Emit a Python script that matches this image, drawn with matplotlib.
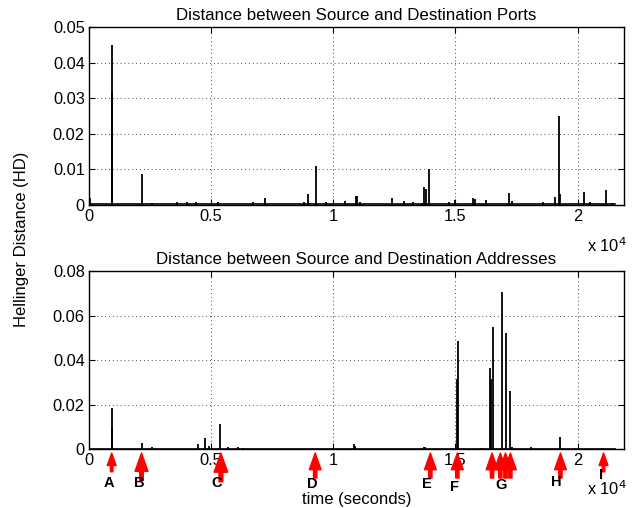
import matplotlib
matplotlib.use("Agg")
import matplotlib.pyplot as plt

plt.rcParams['font.family'] = ['Liberation Sans', 'DejaVu Sans']

# --- data: spikes of the Hellinger distance (time in seconds, HD value)
port_times = [40, 930, 960, 2160, 2600, 3600, 4000, 4400, 5300, 6700, 7190, 8800,
              8960, 9275, 9700, 10500, 10940, 10970, 11100, 12400, 12880, 13250,
              13650, 13710, 13800, 13910, 14730, 15000, 15700, 15800, 16260,
              17210, 17300, 18600, 19070, 19260, 19300, 20260, 20500, 21150, 21400]
port_hd = [0.002, 0.045, 0.032, 0.0088, 0.0006, 0.0008, 0.0009, 0.0007, 0.0008,
           0.0009, 0.002, 0.0009, 0.003, 0.011, 0.0008, 0.001, 0.0025, 0.0025,
           0.0007, 0.002, 0.001, 0.0007, 0.0006, 0.005, 0.0045, 0.010, 0.0008,
           0.0015, 0.002, 0.0018, 0.0015, 0.0033, 0.001, 0.0007, 0.0022, 0.025,
           0.003, 0.0036, 0.0008, 0.0043, 0.0005]

addr_times = [930, 960, 2160, 2600, 4480, 4730, 4900, 5370, 5700, 6100, 6300,
              10830, 10900, 13700, 13770, 15070, 15110, 16100, 16430, 16470,
              16530, 16910, 17060, 17230, 17330, 18100, 19300, 21000]
addr_hd = [0.0183, 0.0098, 0.0028, 0.001, 0.0022, 0.0048, 0.0015, 0.0111, 0.0007,
           0.0008, 0.0006, 0.0022, 0.0012, 0.0007, 0.001, 0.0313, 0.0485, 0.0006,
           0.0363, 0.0315, 0.0547, 0.0704, 0.052, 0.0261, 0.001, 0.0008, 0.0053,
           0.0003]

baseline_hd = 0.0002
t_end = 21550

# event arrows (time of each arrow) and their letters
event_times = [930, 2150, 5400, 9260, 13975, 15080, 16500, 16840, 17050, 17250, 19300, 21065]
arrow_scale = [0.75, 1.1, 1.15, 1.0, 1.0, 1.0, 1.0, 1.0, 1.0, 1.0, 1.0, 0.75]
label_names = ['A', 'B', 'C', 'D', 'E', 'F', 'G', 'H', 'I']
label_times = [832, 2049, 5234, 9127, 13840, 14960, 16873, 19139, 20971]
label_px = [483, 483, 483, 484, 484, 487, 485, 482, 475]

fig = plt.figure(figsize=(6.42, 5.08), dpi=100)
ax1 = fig.add_axes([0.1386, 0.5965, 0.8333, 0.3504])
ax2 = fig.add_axes([0.1386, 0.1161, 0.8333, 0.3504])


def style_axes(ax, ymax, yticks):
    ax.set_xlim(0, 21900)
    ax.set_ylim(0, ymax)
    ax.set_xticks([0, 5000, 10000, 15000, 20000])
    ax.set_xticklabels(['0', '0.5', '1', '1.5', '2'])
    ax.set_yticks(yticks)
    ax.set_yticklabels(['0'] + [f'{v:g}' for v in yticks[1:]])
    ax.tick_params(direction='in', top=True, right=True, labelsize=11.8,
                   length=4, width=0.8, pad=3)
    ax.grid(True, linestyle=(0, (1, 3)), color='0.3', linewidth=0.7)
    for s in ax.spines.values():
        s.set_linewidth(1.0)


# top panel
ax1.plot([0, t_end], [baseline_hd, baseline_hd], color='k', lw=1.2)
ax1.vlines(port_times, 0, port_hd, color='k', lw=1.3)
style_axes(ax1, 0.05, [0, 0.01, 0.02, 0.03, 0.04, 0.05])
ax1.set_title('Distance between Source and Destination Ports', fontsize=12.2, pad=5)

# bottom panel
ax2.plot([0, t_end], [baseline_hd, baseline_hd], color='k', lw=1.2)
ax2.vlines(addr_times, 0, addr_hd, color='k', lw=1.3)
style_axes(ax2, 0.08, [0, 0.02, 0.04, 0.06, 0.08])
ax2.set_title('Distance between Source and Destination Addresses', fontsize=12.2, pad=5)

# red event arrows (axes fraction below the bottom panel: 178 px per unit)
trans = ax2.get_xaxis_transform()
ax_px = 178.0
for t, s in zip(event_times, arrow_scale):
    ax2.annotate('', xy=(t, -4 / ax_px), xycoords=trans,
                 xytext=(t, -(4 + 25 * s) / ax_px), textcoords=trans,
                 arrowprops=dict(facecolor='red', edgecolor='red', width=2.4 * s,
                                 headwidth=8.5 * s, headlength=12 * s, shrink=0),
                 annotation_clip=False)
for name, t, py in zip(label_names, label_times, label_px):
    ax2.text(t, -(py - 449) / ax_px, name, transform=trans, ha='center', va='center',
             fontsize=10.5, fontweight='bold')

# exponent labels and axis labels
fig.text(0.914, 0.5045, r'x 10$^4$', fontsize=11.8, ha='left', va='baseline')
fig.text(0.914, 0.0265, r'x 10$^4$', fontsize=11.8, ha='left', va='baseline')
fig.text(0.555, 0.016, 'time (seconds)', fontsize=12, ha='center', va='center')
fig.text(0.034, 0.528, 'Hellinger Distance (HD)', fontsize=12, ha='center',
         va='center', rotation=90)

fig.savefig('out.png', dpi=100)
